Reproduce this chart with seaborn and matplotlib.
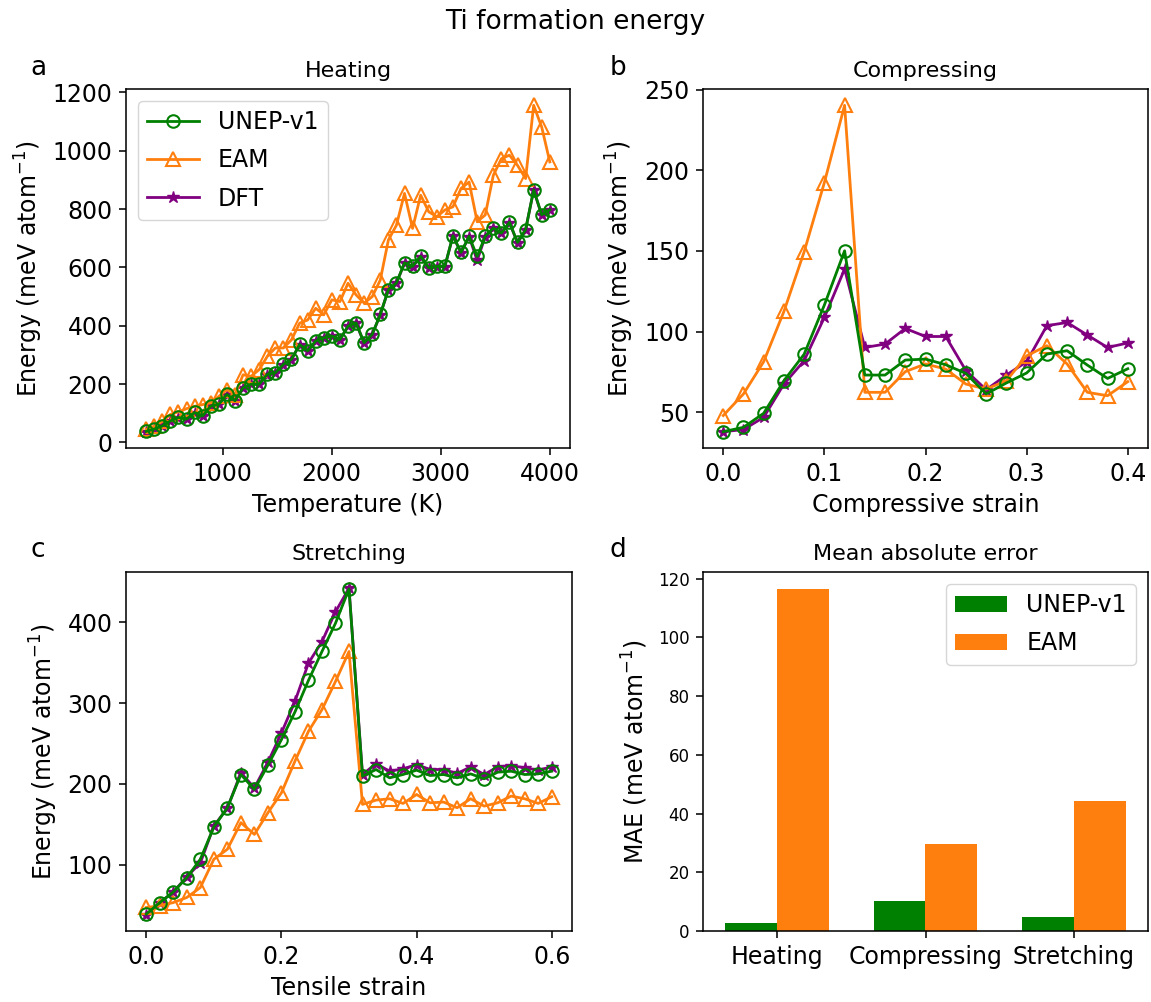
import matplotlib
matplotlib.use('Agg')
import matplotlib.pyplot as plt
from matplotlib.ticker import MultipleLocator
import seaborn as sns
import pandas as pd

# ---------------- data ----------------
temperature = [300, 374, 448, 522, 596, 670, 744, 818, 892, 966, 1040, 1114, 1188, 1262,
               1336, 1410, 1484, 1558, 1632, 1706, 1780, 1854, 1928, 2002, 2076, 2150, 2224,
               2298, 2372, 2446, 2520, 2594, 2668, 2742, 2816, 2890, 2964, 3038, 3112, 3186,
               3260, 3334, 3408, 3482, 3556, 3630, 3704, 3778, 3852, 3926, 4000]
heat_unep = [38, 46, 57, 74, 86, 80, 103, 91, 125, 131, 165, 143, 188, 200, 200, 234, 239,
             268, 285, 336, 314, 348, 359, 365, 353, 399, 410, 342, 371, 439, 524, 547, 616,
             604, 638, 599, 604, 604, 709, 652, 707, 638, 707, 735, 718, 755, 686, 730, 866,
             781, 798]
heat_dft = [37, 45, 56, 73, 85, 80, 102, 90, 124, 131, 164, 142, 187, 199, 199, 233, 238,
            267, 284, 335, 313, 347, 358, 364, 352, 398, 409, 340, 370, 438, 523, 546, 615,
            602, 637, 597, 602, 603, 708, 650, 706, 624, 706, 734, 717, 754, 684, 729, 865,
            779, 797]
heat_eam = [45, 56, 72, 96, 105, 116, 124, 130, 136, 158, 181, 164, 232, 227, 250, 295, 324,
            324, 352, 409, 420, 460, 438, 489, 483, 546, 506, 478, 500, 557, 694, 745, 854,
            734, 848, 791, 774, 797, 808, 871, 893, 757, 780, 916, 973, 985, 950, 905, 1156,
            1081, 962]

comp_strain = [0.00, 0.02, 0.04, 0.06, 0.08, 0.10, 0.12, 0.14, 0.16, 0.18, 0.20, 0.22, 0.24,
               0.26, 0.28, 0.30, 0.32, 0.34, 0.36, 0.38, 0.40]
comp_unep = [38, 40.7, 49.4, 69.6, 86, 116.5, 150.1, 73.1, 73.1, 82.4, 83, 79.5, 74.1, 61.4,
             68.2, 74.4, 86.1, 88.2, 79.3, 71, 77]
comp_eam = [48, 61.4, 81.4, 112.5, 149.5, 192.4, 240.3, 62.4, 62.4, 75.2, 80, 76.8, 67.5,
            64.4, 69.6, 85, 91.3, 80, 62.4, 60.3, 69]
comp_dft = [38, 39.3, 46.9, 67.5, 82, 108.8, 138.8, 90.2, 92.3, 102, 97, 97, 75.8, 64, 73.1,
            81.4, 103.7, 105.7, 97.9, 90.2, 93]

tens_strain = [0.00, 0.02, 0.04, 0.06, 0.08, 0.10, 0.12, 0.14, 0.16, 0.18, 0.20, 0.22, 0.24,
               0.26, 0.28, 0.30, 0.32, 0.34, 0.36, 0.38, 0.40, 0.42, 0.44, 0.46, 0.48, 0.50,
               0.52, 0.54, 0.56, 0.58, 0.60]
tens_unep = [38.7, 53, 66, 84, 106.6, 146.5, 170.4, 211.5, 193, 223, 254.7, 288.9, 328,
             363.8, 398.8, 441.2, 209.5, 217.7, 207.4, 211.5, 216.9, 210.3, 211.5, 207.4,
             212.3, 206.2, 214.4, 215.6, 211.5, 212.3, 215.6]
tens_dft = [38, 53, 66, 85, 102, 147.7, 170, 213.6, 195, 226.7, 263, 302, 349.4, 376, 413,
            442, 211.5, 225, 215.6, 218.5, 223.9, 217.7, 217.7, 212.8, 221, 211.5, 221,
            222.6, 219.8, 216.9, 221]
tens_eam = [46.9, 49, 53, 59.3, 71.6, 106.6, 119, 151.9, 137.4, 164.2, 188.9, 228, 265,
            291.8, 326.7, 363.8, 174.5, 179.8, 181.5, 175.7, 186.8, 176.5, 177.4, 170.4,
            181.5, 172.4, 176.5, 184.8, 181.5, 175.7, 184]

mae_categories = ['Heating', 'Compressing', 'Stretching']
mae_unep = [2.8, 10.3, 4.8]
mae_eam = [116.4, 29.7, 44.3]

# ---------------- style ----------------
GREEN = 'green'
ORANGE = '#ff7f0e'
PURPLE = 'purple'
TICK_FS = 17
LABEL_FS = 17
TITLE_FS = 16
LEGEND_FS = 17
S = 1.4  # overall scale of the original rendering

plt.rcParams.update({
    'axes.linewidth': 0.8 * S,
    'xtick.major.size': 3.5 * S, 'ytick.major.size': 3.5 * S,
    'xtick.major.width': 0.8 * S, 'ytick.major.width': 0.8 * S,
    'xtick.major.pad': 3.5 * S, 'ytick.major.pad': 3.5 * S,
    'axes.labelpad': 4.0 * S,
    'axes.titlepad': 6.0 * S,
    'legend.labelspacing': 0.6,
    'legend.handlelength': 2.2,
})

fig = plt.figure(figsize=(11.51, 10.02), dpi=100)
W, H = 1151, 1002


def box(l, t, r, b):
    return [l / W, 1 - b / H, (r - l) / W, (b - t) / H]


axa = fig.add_axes(box(126, 89, 570, 448))
axb = fig.add_axes(box(703, 89, 1148, 448))
axc = fig.add_axes(box(126, 572, 572, 931))
axd = fig.add_axes(box(703, 572, 1148, 931))


def draw(ax, x, unep, eam, dft):
    sns.lineplot(x=x, y=dft, ax=ax, color=PURPLE, marker='*', markersize=9,
                 markerfacecolor=PURPLE, markeredgecolor=PURPLE, markeredgewidth=1,
                 linewidth=2, label='DFT', zorder=2.0)
    sns.lineplot(x=x, y=eam, ax=ax, color=ORANGE, marker='^', markersize=9.5,
                 markerfacecolor='none', markeredgecolor=ORANGE, markeredgewidth=1.5,
                 linewidth=2, label='EAM', zorder=2.1)
    sns.lineplot(x=x, y=unep, ax=ax, color=GREEN, marker='o', markersize=9,
                 markerfacecolor='none', markeredgecolor=GREEN, markeredgewidth=1.5,
                 linewidth=2, label='UNEP-v1', zorder=2.2)
    ax.tick_params(labelsize=TICK_FS)
    ax.set_ylabel('Energy (meV atom$^{-1}$)', fontsize=LABEL_FS)


draw(axa, temperature, heat_unep, heat_eam, heat_dft)
axa.set_xlabel('Temperature (K)', fontsize=LABEL_FS)
axa.set_title('Heating', fontsize=TITLE_FS)
handles, labels = axa.get_legend_handles_labels()
order = [labels.index(n) for n in ['UNEP-v1', 'EAM', 'DFT']]
axa.legend([handles[i] for i in order], [labels[i] for i in order],
           loc='upper left', fontsize=LEGEND_FS)
axa.set_xticks([1000, 2000, 3000, 4000])
axa.yaxis.set_major_locator(MultipleLocator(200))

draw(axb, comp_strain, comp_unep, comp_eam, comp_dft)
axb.set_xlabel('Compressive strain', fontsize=LABEL_FS)
axb.set_title('Compressing', fontsize=TITLE_FS)
axb.legend_.remove()
axb.yaxis.set_major_locator(MultipleLocator(50))
axb.xaxis.set_major_locator(MultipleLocator(0.1))

draw(axc, tens_strain, tens_unep, tens_eam, tens_dft)
axc.set_xlabel('Tensile strain', fontsize=LABEL_FS)
axc.set_title('Stretching', fontsize=TITLE_FS)
axc.legend_.remove()
axc.yaxis.set_major_locator(MultipleLocator(100))
axc.xaxis.set_major_locator(MultipleLocator(0.2))

mae_df = pd.DataFrame({
    'category': mae_categories * 2,
    'model': ['UNEP-v1'] * 3 + ['EAM'] * 3,
    'mae': mae_unep + mae_eam,
})
sns.barplot(data=mae_df, x='category', y='mae', hue='model', ax=axd,
            palette=[GREEN, ORANGE], saturation=1, width=0.7)
axd.set_xlabel('')
axd.set_ylabel('MAE (meV atom$^{-1}$)', fontsize=LABEL_FS)
axd.set_title('Mean absolute error', fontsize=TITLE_FS)
axd.tick_params(axis='x', labelsize=TICK_FS)
axd.tick_params(axis='y', labelsize=12)
sns.move_legend(axd, 'upper right', title=None, fontsize=LEGEND_FS)

fig.suptitle('Ti formation energy', fontsize=19, y=0.978, va='center')
for letter, (px, py) in zip('abcd', [(38, 68), (618, 68), (38, 550), (618, 550)]):
    fig.text(px / W, 1 - py / H, letter, fontsize=19, ha='center', va='center')

fig.savefig('out.png', dpi=100)
